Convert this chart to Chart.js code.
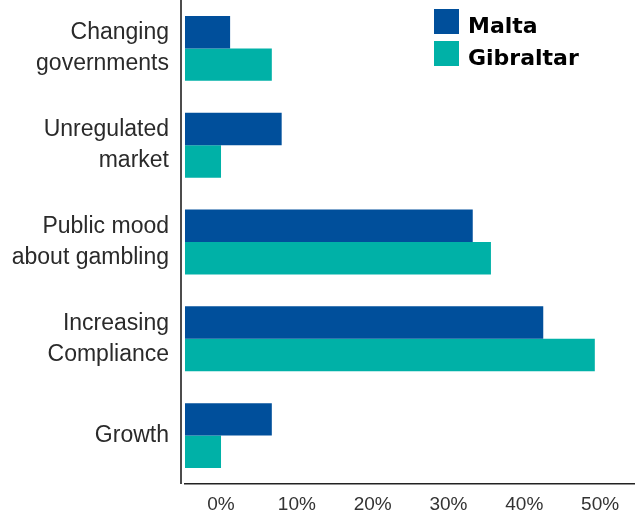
<!DOCTYPE html>
<html>
<head>
<meta charset="utf-8">
<script src="https://cdn.jsdelivr.net/npm/chart.js@4/dist/chart.umd.min.js"></script>
<style>
  html, body { margin: 0; padding: 0; background: #fff; }
  #wrap { width: 635px; height: 516px; position: relative; }
</style>
</head>
<body>
<div id="wrap"><canvas id="myChart"></canvas></div>
<script>
// datos
const categorias = [
  ['Changing', 'governments'],
  ['Unregulated', 'market'],
  ['Public mood', 'about gambling'],
  ['Increasing', 'Compliance'],
  ['Growth']
];
const malta = [1.2, 8.0, 33.2, 42.5, 6.7];
const gibraltar = [6.7, 0, 35.6, 49.3, 0];
const ticksX = [0, 10, 20, 30, 40, 50];

const azul = '#004f9b';
const turquesa = '#00b1a7';
const ejeMin = -4.75;
const ejeMax = 54.6;

// leyenda dentro del area y linea vertical del eje
const leyendaPlugin = {
  id: 'leyendaPlugin',
  afterDraw(chart) {
    const ctx = chart.ctx;
    const area = chart.chartArea;
    ctx.save();
    ctx.strokeStyle = '#111';
    ctx.lineWidth = 1.5;
    ctx.beginPath();
    ctx.moveTo(181, 0);
    ctx.lineTo(181, area.bottom);
    ctx.stroke();

    const items = [
      { texto: 'Malta', color: azul, y: 9 },
      { texto: 'Gibraltar', color: turquesa, y: 41 }
    ];
    ctx.font = 'bold 22px "DejaVu Sans"';
    ctx.textBaseline = 'alphabetic';
    ctx.textAlign = 'left';
    items.forEach(it => {
      ctx.fillStyle = it.color;
      ctx.fillRect(434, it.y, 25, 25);
      ctx.fillStyle = '#000';
      ctx.fillText(it.texto, 468, it.y + 24);
    });
    ctx.restore();
  }
};

const ctx = document.getElementById('myChart').getContext('2d');
const myChart = new Chart(ctx, {
  type: 'bar',
  data: {
    labels: categorias,
    datasets: [
      { label: 'Malta', data: malta, backgroundColor: azul, base: ejeMin },
      { label: 'Gibraltar', data: gibraltar, backgroundColor: turquesa, base: ejeMin }
    ]
  },
  options: {
    indexAxis: 'y',
    responsive: true,
    maintainAspectRatio: false,
    animation: false,
    layout: { padding: { top: -1, right: 0, left: 0, bottom: 0 } },
    datasets: {
      bar: { categoryPercentage: 0.67, barPercentage: 1.0 }
    },
    plugins: {
      legend: { display: false },
      tooltip: { enabled: false }
    },
    scales: {
      x: {
        type: 'linear',
        min: ejeMin,
        max: ejeMax,
        afterBuildTicks: function(scale) {
          scale.ticks = ticksX.map(v => ({ value: v }));
        },
        afterFit: function(scale) {
          scale.height = 32;
          scale.paddingLeft = 0;
          scale.paddingRight = 0;
        },
        grid: { display: false, drawTicks: false },
        border: { display: true, color: '#222', width: 1.5 },
        ticks: {
          padding: 9,
          color: '#333',
          font: { family: '"Liberation Sans"', size: 19 },
          callback: v => v + '%'
        }
      },
      y: {
        afterFit: function(scale) {
          scale.width = 185;
          scale.paddingTop = 0;
          scale.paddingBottom = 0;
        },
        grid: { display: false, drawTicks: false },
        border: { display: false },
        ticks: {
          padding: 16,
          color: '#2a2a2a',
          font: { family: '"Liberation Sans"', size: 23, lineHeight: 1.35 }
        }
      }
    }
  },
  plugins: [leyendaPlugin]
});
</script>
</body>
</html>
